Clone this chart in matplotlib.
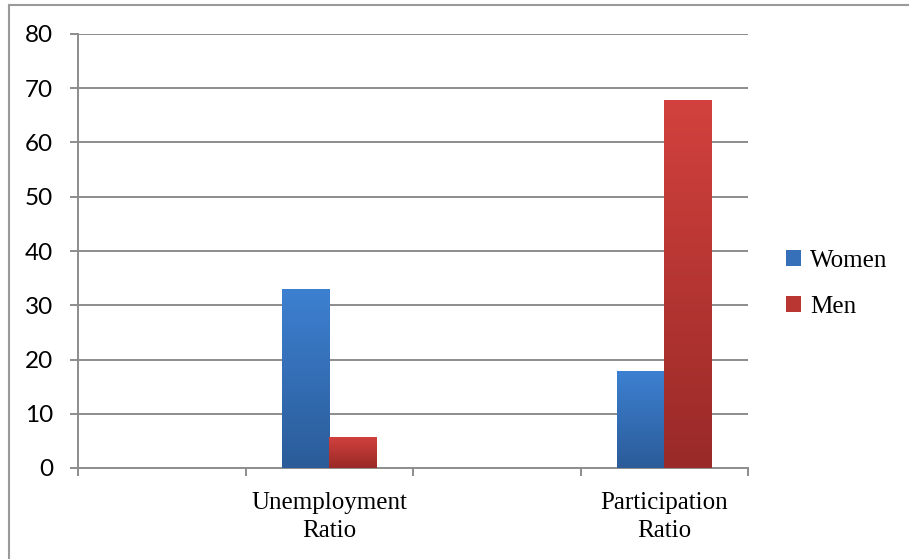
import numpy as np
import matplotlib
matplotlib.use('Agg')
import matplotlib.pyplot as plt
from matplotlib.lines import Line2D
from matplotlib.patches import Patch

# data (empty slots have no bars)
categories = ['', 'Unemployment\nRatio', '', 'Participation\nRatio']
women = [None, 33, None, 17.8]
men = [None, 5.8, None, 67.9]
yticks = [0, 10, 20, 30, 40, 50, 60, 70, 80]

women_top, women_bot = '#3d80d1', '#2b5c99'
men_top, men_bot = '#d2413d', '#992a28'
grey = '#8c8c8c'

fig = plt.figure(figsize=(9.09, 5.59), dpi=100)
ax = fig.add_axes([78/909, 1-468/559, (748-78)/909, (468-34)/559])

bw = 0.2836
x = np.arange(len(categories))


def grad_bar(xc, h, top, bot):
    bars = ax.bar(xc, h, width=bw, color='none', edgecolor='none', zorder=3)
    patch = bars[0]
    c1 = np.array(matplotlib.colors.to_rgb(top))
    c2 = np.array(matplotlib.colors.to_rgb(bot))
    t = np.linspace(0, 1, 100)[:, None]
    img = (c1 * (1 - t) + c2 * t)[:, None, :]
    im = ax.imshow(img, extent=(xc - bw/2, xc + bw/2, 0, h), aspect='auto',
                   origin='upper', zorder=3)
    im.set_clip_path(patch)


for i in range(len(categories)):
    if women[i] is not None:
        grad_bar(x[i] - bw/2, women[i], women_top, women_bot)
    if men[i] is not None:
        grad_bar(x[i] + bw/2, men[i], men_top, men_bot)

ax.set_xlim(-0.5, len(categories) - 0.5)
ax.set_ylim(0, 80)

# gridlines
for y in yticks[1:]:
    ax.axhline(y, color=grey, lw=1.4, zorder=1)

for s in ['top', 'right']:
    ax.spines[s].set_visible(False)
for s in ['left', 'bottom']:
    ax.spines[s].set_color(grey)
    ax.spines[s].set_linewidth(1.4)

ax.set_yticks(yticks)
ax.set_yticklabels([str(v) for v in yticks], fontsize=17.5, family='Lato')
ax.tick_params(axis='y', length=6, width=1.4, color=grey, pad=12)

ax.set_xticks(np.arange(-0.5, len(categories)), labels=[''] * (len(categories) + 1))
ax.tick_params(axis='x', which='major', length=6, width=1.4, color=grey)
ax.set_xticks(x, labels=categories, minor=True)
ax.tick_params(axis='x', which='minor', length=0, pad=17)
for lab in ax.get_xticklabels(minor=True):
    lab.set_fontfamily('Liberation Serif')
    lab.set_fontsize(18)
    lab.set_linespacing(1.35)

handles = [Patch(facecolor='#3570b8', edgecolor='none'),
           Patch(facecolor='#b93633', edgecolor='none')]
fig.legend(handles, ['Women', 'Men'], loc='center left',
           bbox_to_anchor=(786/909, 1-284/559), frameon=False,
           prop={'family': 'Liberation Serif', 'size': 18},
           handlelength=0.6, handleheight=0.6, handletextpad=0.35,
           labelspacing=0.95, borderpad=0, borderaxespad=0)

# outer chart border (top and left visible)
fig.add_artist(Line2D([9/909, 1], [1-5/559, 1-5/559], color='#9a9a9a', lw=1.5))
fig.add_artist(Line2D([9/909, 9/909], [0, 1-5/559], color='#9a9a9a', lw=1.5))

fig.savefig('out.png', dpi=100)
